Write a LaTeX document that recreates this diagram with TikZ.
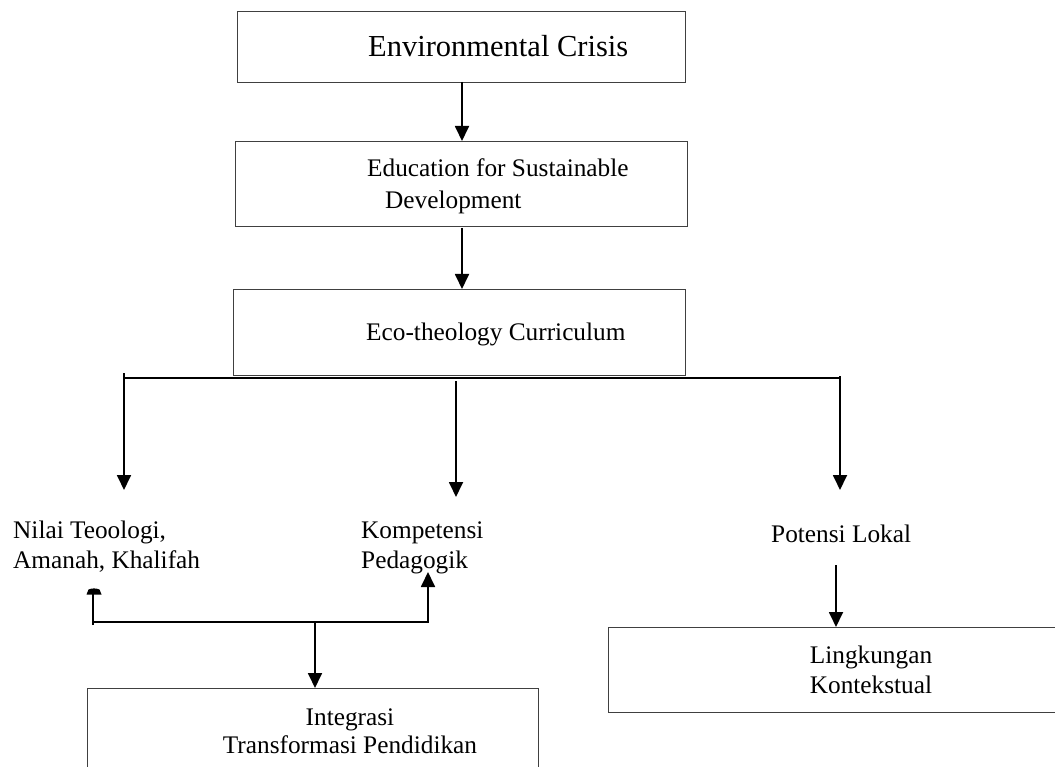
\documentclass[tikz,border=0pt]{standalone}
\usepackage{fontspec}
\setmainfont{Liberation Serif}
\usetikzlibrary{arrows.meta}
\begin{document}
\begin{tikzpicture}[x=1pt,y=-1pt,
  box/.style={draw=black!75, line width=1pt, inner sep=0pt, anchor=north west},
  lbl/.style={inner sep=0pt, font=\fontsize{25.3}{30}\selectfont},
  conn/.style={line width=1.8pt, -{Triangle[width=14pt,length=15pt]}},
  link/.style={line width=1.8pt},
  trunk/.style={line width=2.6pt}]
\useasboundingbox (0,0) rectangle (1055,767);
\clip (0,0) rectangle (1055,767);
% boxes
\node[box, minimum width=448pt, minimum height=71pt] (b1) at (237,11) {};
\node[box, minimum width=452pt, minimum height=85pt] (b2) at (235,141) {};
\node[box, minimum width=452pt, minimum height=86pt] (b3) at (233,289) {};
\node[box, minimum width=451pt, minimum height=100pt] (ib) at (87,688) {};
\node[box, minimum width=460pt, minimum height=85pt] (lb) at (608,627) {};
% texts (base anchor of multi-line nodes = last line)
\node[lbl, anchor=base west, font=\fontsize{30.5}{34}\selectfont] (t1) at (368,57) {Environmental Crisis};
\node[lbl, anchor=base west, align=left] (t2) at (367,209) {Education for Sustainable\\[2pt]\hspace*{18pt}Development};
\node[lbl, anchor=base west] (t3) at (366,341) {Eco-theology Curriculum};
\node[lbl, anchor=base west, align=left] (nilai) at (13,568) {Nilai Teoologi,\\Amanah, Khalifah};
\node[lbl, anchor=base west, align=left] (komp) at (361,568) {Kompetensi\\Pedagogik};
\node[lbl, anchor=base west] (pot) at (771,542) {Potensi Lokal};
\node[lbl, anchor=base, align=center] (ling) at (871,693) {Lingkungan\\Kontekstual};
\node[lbl, anchor=base, align=center, font=\fontsize{25.3}{28}\selectfont] (integ) at (350,753) {Integrasi\\Transformasi Pendidikan};
% main flow
\draw[conn] (462,82) -- (462,141);
\draw[conn] (462,228) -- (462,289);
% branching trunk
\coordinate (bl) at (124,378);
\coordinate (bm) at (456,381);
\coordinate (br) at (840,378);
\coordinate (tl) at (124,490);
\coordinate (tm) at (456,497);
\coordinate (tr) at (840,490);
\draw[trunk] (bl) -- (br);
\draw[link] (124,373) -- (bl);
\draw[link] (840,376) -- (br);
\draw[conn] (bl) -- (tl);
\draw[conn] (bm) -- (tm);
\draw[conn] (br) -- (tr);
% potensi to lingkungan
\coordinate (ps) at (836,565);
\draw[conn] (ps) -- (ps |- lb.north);
% bottom bracket
\coordinate (kl) at (93,622);
\coordinate (kr) at (428,622);
\coordinate (km) at (315,622);
\coordinate (klt) at (93,592);
\coordinate (krt) at (428,572);
\draw[link] (93,625) -- (klt);
\fill (86.5,594.5) -- (101.5,594.5) -- (99.5,589.5) to[bend right=20] (88.5,589.5) -- cycle;
\draw[link] (kl) -- (kr);
\draw[conn] (428,623) -- (krt);
\draw[conn] (km) -- (km |- ib.north);
\end{tikzpicture}
\end{document}
